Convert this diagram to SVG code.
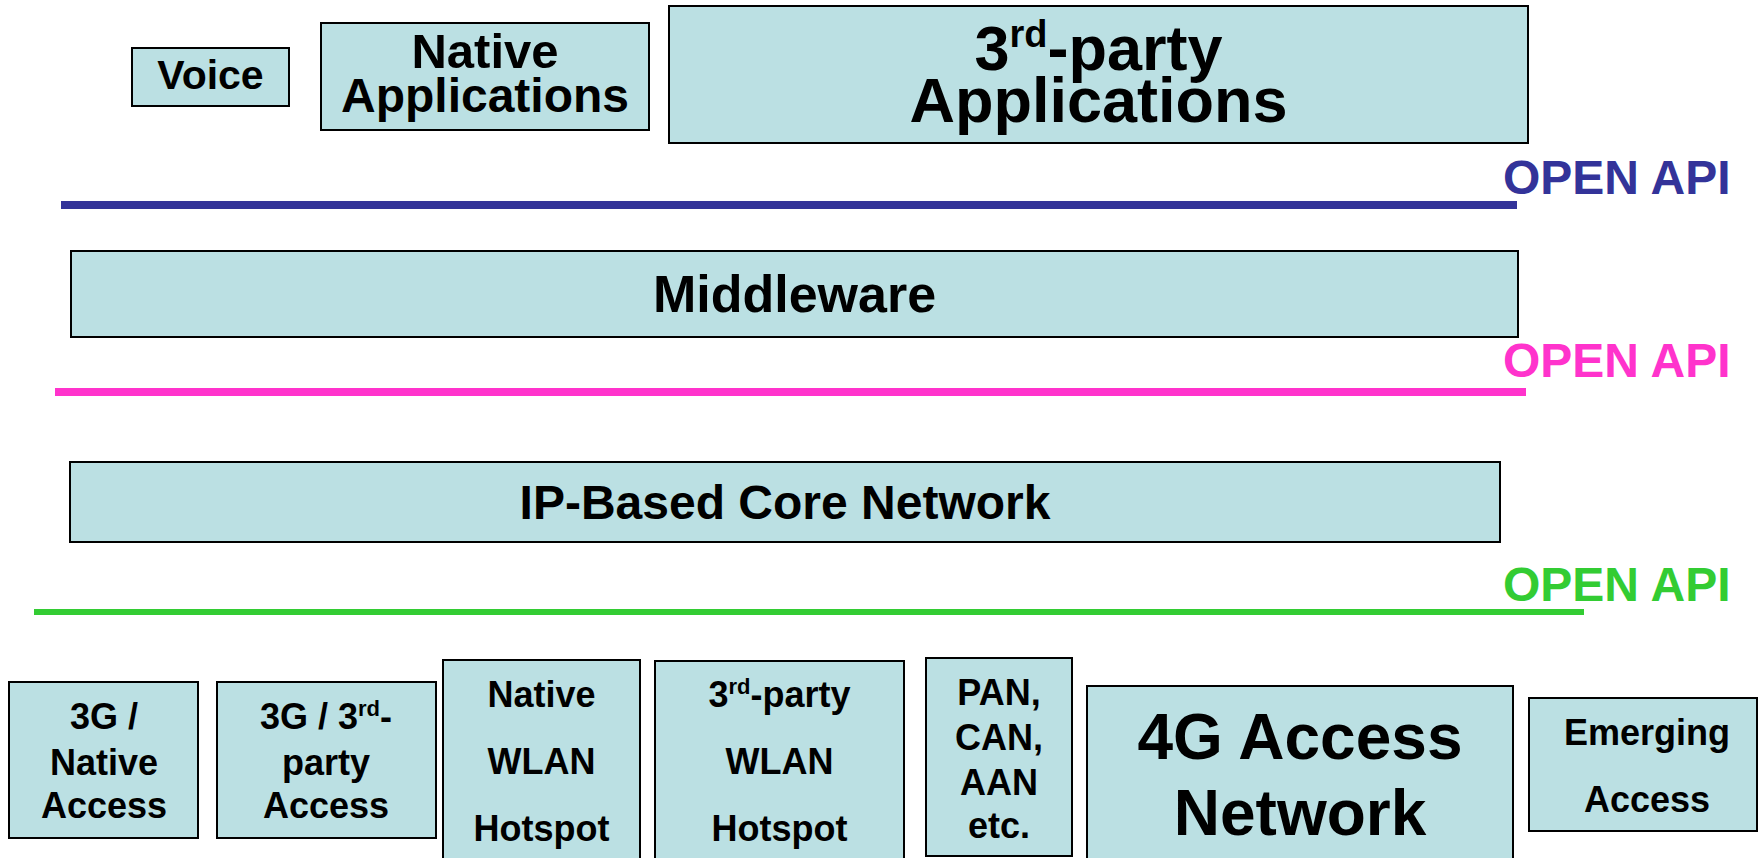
<svg xmlns="http://www.w3.org/2000/svg" width="1758" height="858" viewBox="0 0 1758 858">
<style>
.box{fill:#BBE0E3;stroke:#000;stroke-width:2}
text{font-family:"Liberation Sans",Arial,sans-serif;font-weight:bold;fill:#000;text-anchor:middle}
.api{font-size:48px;text-anchor:start}
.s36{font-size:36px}
</style>
<rect width="1758" height="858" fill="#fff"/>
<g id="voice"><rect class="box" x="132" y="48" width="157" height="58"/><text x="210.5" y="89" font-size="41">Voice</text></g>
<g id="native-apps"><rect class="box" x="321" y="23" width="328" height="107"/><text x="485" y="68" font-size="49">Native</text><text x="485" y="112" font-size="48">Applications</text></g>
<g id="third-party-apps"><rect class="box" x="669" y="6" width="859" height="137"/><text x="1098.5" y="70" font-size="63">3<tspan font-size="38" dy="-23">rd</tspan><tspan dy="23">-party</tspan></text><text x="1098.5" y="122" font-size="63">Applications</text></g>
<g id="middleware"><rect class="box" x="71" y="251" width="1447" height="86"/><text x="794.5" y="312" font-size="52">Middleware</text></g>
<g id="ip-core"><rect class="box" x="70" y="462" width="1430" height="80"/><text x="785" y="519" font-size="48">IP-Based Core Network</text></g>
<g id="api-lines">
<line x1="61" y1="205" x2="1517" y2="205" stroke="#333399" stroke-width="8"/>
<line x1="55" y1="392" x2="1526" y2="392" stroke="#FF33CC" stroke-width="8"/>
<line x1="34" y1="612" x2="1584" y2="612" stroke="#33CC33" stroke-width="6"/>
</g>
<g id="api-labels">
<text class="api" x="1503" y="194" style="fill:#333399">OPEN API</text>
<text class="api" x="1503" y="377" style="fill:#FF33CC">OPEN API</text>
<text class="api" x="1503" y="601" style="fill:#33CC33">OPEN API</text>
</g>
<g id="g3-native"><rect class="box" x="9" y="682" width="189" height="156"/><text class="s36" x="104" y="729">3G /</text><text class="s36" x="104" y="775">Native</text><text class="s36" x="104" y="818">Access</text></g>
<g id="g3-third"><rect class="box" x="217" y="682" width="219" height="156"/><text class="s36" x="326" y="729">3G / 3<tspan font-size="22" dy="-13">rd</tspan><tspan dy="13">-</tspan></text><text class="s36" x="326" y="775">party</text><text class="s36" x="326" y="818">Access</text></g>
<g id="wlan-native"><rect class="box" x="443" y="660" width="197" height="215"/><text class="s36" x="541.5" y="707">Native</text><text class="s36" x="541.5" y="774">WLAN</text><text class="s36" x="541.5" y="841">Hotspot</text></g>
<g id="wlan-third"><rect class="box" x="655" y="661" width="249" height="215"/><text class="s36" x="779.5" y="707">3<tspan font-size="22" dy="-13">rd</tspan><tspan dy="13">-party</tspan></text><text class="s36" x="779.5" y="774">WLAN</text><text class="s36" x="779.5" y="841">Hotspot</text></g>
<g id="pan"><rect class="box" x="926" y="658" width="146" height="198"/><text class="s36" x="999" y="705">PAN,</text><text class="s36" x="999" y="750">CAN,</text><text class="s36" x="999" y="795">AAN</text><text class="s36" x="999" y="838">etc.</text></g>
<g id="g4"><rect class="box" x="1087" y="686" width="426" height="190"/><text x="1300" y="759" font-size="64">4G Access</text><text x="1300" y="835" font-size="64">Network</text></g>
<g id="emerging"><rect class="box" x="1529" y="698" width="228" height="133"/><text class="s36" x="1647" y="745">Emerging</text><text class="s36" x="1647" y="812">Access</text></g>
</svg>
